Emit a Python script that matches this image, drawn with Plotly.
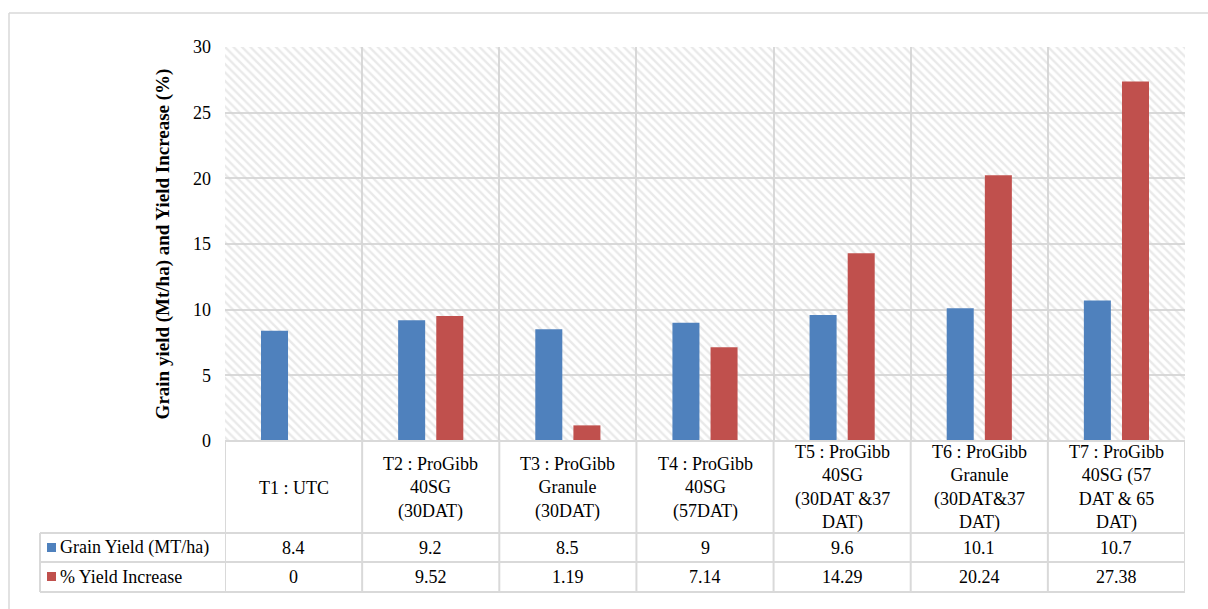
import plotly.graph_objects as go

categories = [
    "T1 : UTC",
    "T2 : ProGibb<br>40SG<br>(30DAT)",
    "T3 : ProGibb<br>Granule<br>(30DAT)",
    "T4 : ProGibb<br>40SG<br>(57DAT)",
    "T5 : ProGibb<br>40SG<br>(30DAT &37<br>DAT)",
    "T6 : ProGibb<br>Granule<br>(30DAT&37<br>DAT)",
    "T7 : ProGibb<br>40SG (57<br>DAT & 65<br>DAT)",
]
grain_yield = [8.4, 9.2, 8.5, 9, 9.6, 10.1, 10.7]
yield_increase = [0, 9.52, 1.19, 7.14, 14.29, 20.24, 27.38]
grain_labels = ["8.4", "9.2", "8.5", "9", "9.6", "10.1", "10.7"]
increase_labels = ["0", "9.52", "1.19", "7.14", "14.29", "20.24", "27.38"]
series_names = ["Grain Yield (MT/ha)", "% Yield Increase"]
colors = ["#4F81BD", "#C0504D"]
y_ticks = [0, 5, 10, 15, 20, 25, 30]

W, H = 1208, 609
L, R, T, B = 225, 23, 47, 168
PW, PH = W - L - R, H - T - B
FONT = "Liberation Serif, Times New Roman, serif"
GRID = "#d9d9d9"

def px_x(p):
    return (p - L) / PW

def px_y(p):
    return (H - B - p) / PH

n = len(categories)
xs = list(range(n))

fig = go.Figure()
# hatched plot background
fig.add_trace(go.Bar(
    x=[(n - 1) / 2], y=[max(y_ticks)], width=n, offset=-n / 2,
    marker=dict(color="rgba(0,0,0,0)", line=dict(width=0),
                pattern=dict(shape="\\", fgcolor="#d4d4d4", size=6, solidity=0.4,
                             fillmode="overlay")),
    hoverinfo="skip", showlegend=False,
))
bw = 0.197
fig.add_trace(go.Bar(x=xs, y=grain_yield, width=bw, offset=-0.139 - bw / 2,
                     marker=dict(color=colors[0], line=dict(width=0)),
                     name=series_names[0], showlegend=False))
fig.add_trace(go.Bar(x=xs, y=yield_increase, width=bw, offset=0.139 - bw / 2,
                     marker=dict(color=colors[1], line=dict(width=0)),
                     name=series_names[1], showlegend=False))

shapes = []
line = dict(color=GRID, width=2)
y_hdr_bot = px_y(533)
y_r1_bot = px_y(562)
y_r2_bot = px_y(592)
x_left = px_x(40)
# vertical table lines at category boundaries
for b in range(n + 1):
    shapes.append(dict(type="line", xref="x", yref="paper", x0=b - 0.5, x1=b - 0.5,
                       y0=0, y1=y_r2_bot, line=line))
shapes.append(dict(type="line", xref="paper", yref="paper", x0=x_left, x1=x_left,
                   y0=y_hdr_bot, y1=y_r2_bot, line=line))
for yy in (y_hdr_bot, y_r1_bot, y_r2_bot):
    shapes.append(dict(type="line", xref="paper", yref="paper", x0=x_left, x1=1,
                       y0=yy, y1=yy, line=line))
shapes.append(dict(type="line", xref="paper", yref="paper", x0=0, x1=1, y0=0, y1=0, line=line))
# legend keys
for i, (y0p, y1p) in enumerate([(543, 552), (572, 581)]):
    shapes.append(dict(type="rect", xref="paper", yref="paper", x0=px_x(47), x1=px_x(56),
                       y0=px_y(y1p), y1=px_y(y0p), fillcolor=colors[i], line=dict(width=0)))
# outer border (left and top)
shapes.append(dict(type="line", xref="paper", yref="paper", x0=px_x(9), x1=px_x(9),
                   y0=px_y(13), y1=px_y(640), line=dict(color=GRID, width=1.5)))
shapes.append(dict(type="line", xref="paper", yref="paper", x0=px_x(9), x1=px_x(1240),
                   y0=px_y(13), y1=px_y(13), line=dict(color=GRID, width=1.5)))

ann = []
tfont = dict(family=FONT, size=18, color="#000")
for i in range(n):
    ann.append(dict(x=i, xref="x", y=px_y(487.5), yref="paper", text=categories[i],
                    showarrow=False, font=tfont, xanchor="center", yanchor="middle"))
    ann.append(dict(x=i, xref="x", y=px_y(547.5), yref="paper", text=grain_labels[i],
                    showarrow=False, font=tfont, xanchor="center", yanchor="middle"))
    ann.append(dict(x=i, xref="x", y=px_y(576.5), yref="paper", text=increase_labels[i],
                    showarrow=False, font=tfont, xanchor="center", yanchor="middle"))
for i, yp in enumerate([547.5, 576.5]):
    ann.append(dict(x=px_x(58), xref="paper", y=px_y(yp), yref="paper", text=series_names[i],
                    showarrow=False, font=tfont, xanchor="left", yanchor="middle"))

fig.update_layout(
    width=W, height=H, margin=dict(l=L, r=R, t=T, b=B),
    paper_bgcolor="white", plot_bgcolor="white",
    barmode="overlay", showlegend=False,
    shapes=shapes, annotations=ann,
    xaxis=dict(range=[-0.5, n - 0.5], tickvals=[b - 0.5 for b in range(n + 1)],
               showticklabels=False, showgrid=True, gridcolor=GRID, gridwidth=2,
               zeroline=False, showline=False, fixedrange=True),
    yaxis=dict(range=[0, 30], tickvals=y_ticks, showgrid=True, gridcolor=GRID, gridwidth=2,
               zeroline=False, showline=False, ticks="", ticklabelstandoff=13,
               tickfont=dict(family=FONT, size=18, color="#000"),
               title=dict(text="<b>Grain yield (Mt/ha) and Yield Increase (%)</b>",
                          font=dict(family=FONT, size=19, color="#000"), standoff=18)),
    font=dict(family=FONT),
)

fig.write_html("out.html", config={"displayModeBar": False},
               post_script="document.body.style.margin='0';document.body.style.padding='0';")
